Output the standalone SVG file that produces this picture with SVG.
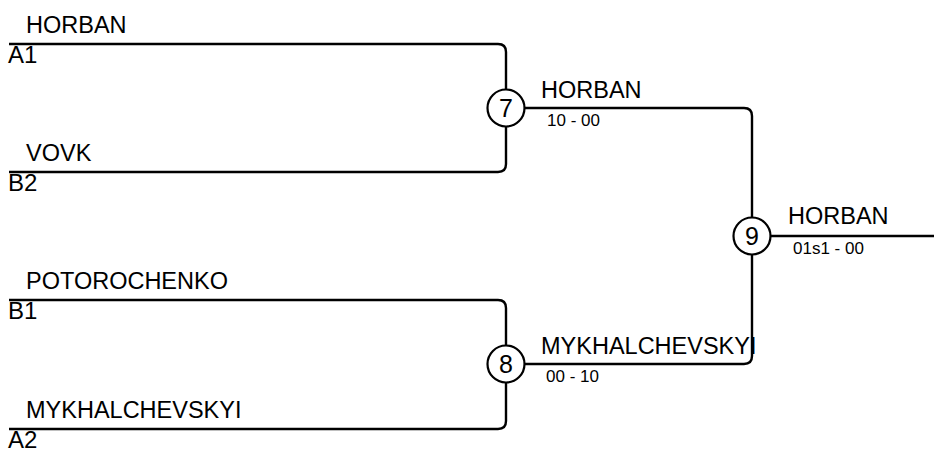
<svg xmlns="http://www.w3.org/2000/svg" width="934" height="452" viewBox="0 0 934 452">
<style>
.ln{fill:none;stroke:#000;stroke-width:2.4}
.c{fill:#fff;stroke:#000;stroke-width:2.2}
.nm{font-family:"Liberation Sans",Arial,sans-serif;font-size:23.5px;fill:#000}
.sd{font-family:"Liberation Sans",Arial,sans-serif;font-size:24px;fill:#000}
.sc{font-family:"Liberation Sans",Arial,sans-serif;font-size:17px;fill:#000}
.num{font-family:"Liberation Sans",Arial,sans-serif;font-size:25px;fill:#000;text-anchor:middle}
</style>
<rect width="934" height="452" fill="#fff"/>
<g id="connectors">
<path class="ln" d="M9,44 H498 Q506,44 506,52 V90"/>
<path class="ln" d="M9,172 H498 Q506,172 506,164 V127"/>
<path class="ln" d="M9,300 H498 Q506,300 506,308 V345"/>
<path class="ln" d="M9,429 H498 Q506,429 506,421 V383"/>
<path class="ln" d="M525,108 H744 Q752,108 752,116 V217"/>
<path class="ln" d="M525,364 H744 Q752,364 752,356 V255"/>
<path class="ln" d="M771,236 H934"/>
</g>
<g id="entry-a1">
<text class="nm" x="26" y="33">HORBAN</text>
<text class="sd" x="8" y="63">A1</text>
</g>
<g id="entry-b2">
<text class="nm" x="26" y="161">VOVK</text>
<text class="sd" x="8" y="191">B2</text>
</g>
<g id="entry-b1">
<text class="nm" x="26" y="289">POTOROCHENKO</text>
<text class="sd" x="8" y="319">B1</text>
</g>
<g id="entry-a2">
<text class="nm" x="26" y="418">MYKHALCHEVSKYI</text>
<text class="sd" x="8" y="448">A2</text>
</g>
<g id="match-7">
<circle class="c" cx="506" cy="108" r="18.5"/>
<text class="num" x="506" y="117">7</text>
<text class="nm" x="541" y="98">HORBAN</text>
<text class="sc" x="547" y="126">10 - 00</text>
</g>
<g id="match-8">
<circle class="c" cx="506" cy="364" r="18.5"/>
<text class="num" x="506" y="373">8</text>
<text class="nm" x="541" y="354">MYKHALCHEVSKYI</text>
<text class="sc" x="546" y="382">00 - 10</text>
</g>
<g id="match-9">
<circle class="c" cx="752" cy="236" r="18.5"/>
<text class="num" x="752" y="245">9</text>
<text class="nm" x="788" y="224">HORBAN</text>
<text class="sc" x="793" y="254">01s1 - 00</text>
</g>
</svg>
